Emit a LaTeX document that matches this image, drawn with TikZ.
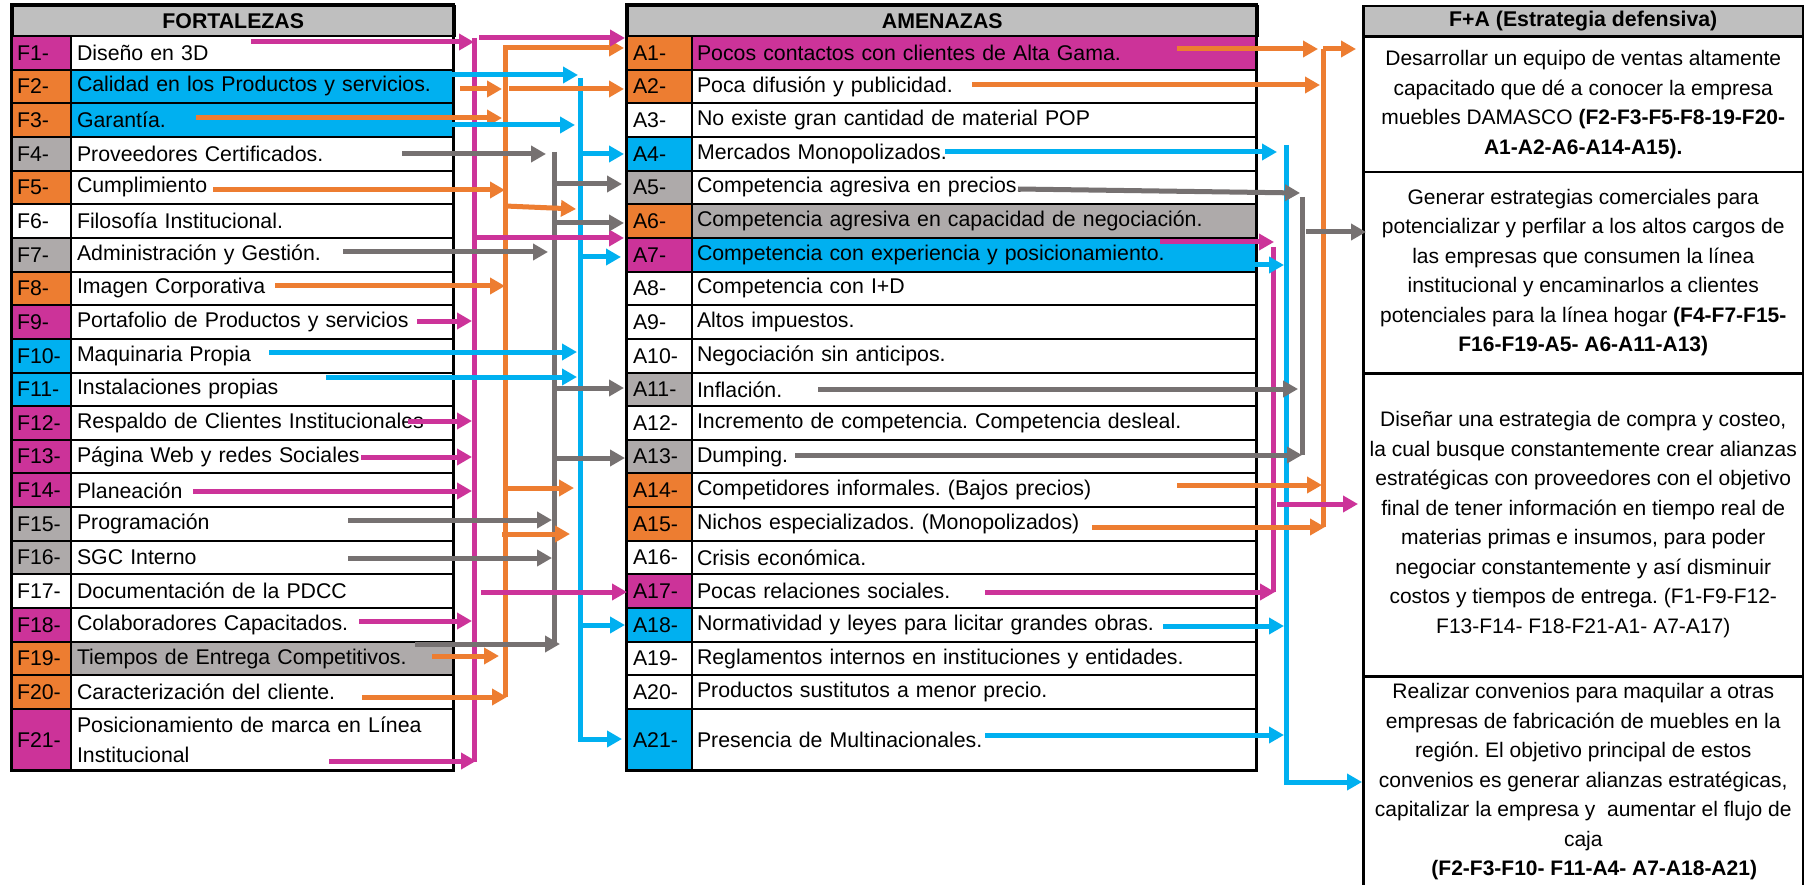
\documentclass[tikz,border=0pt]{standalone}
\usepackage{fontspec}
\setmainfont{Liberation Sans}
\frenchspacing
\usetikzlibrary{arrows.meta}
\definecolor{mag}{RGB}{204,51,153}
\definecolor{ora}{RGB}{237,125,49}
\definecolor{cya}{RGB}{0,176,240}
\definecolor{gry}{RGB}{118,113,113}
\definecolor{cellg}{RGB}{174,170,170}
\definecolor{headg}{RGB}{191,191,191}

\begin{document}
\begin{tikzpicture}[x=1pt, y=-1pt,
    every node/.style={font=\fontsize{21.3}{29.5}\selectfont, inner ysep=0pt},
    cell/.style={draw=black, line width=2pt, anchor=north west, minimum height=33.65pt, align=left},
    codeF/.style={cell, text width=49pt, inner xsep=5pt},
    textF/.style={cell, text width=371pt, inner xsep=6pt},
    codeA/.style={cell, text width=53pt, inner xsep=6pt},
    textA/.style={cell, text width=555pt, inner xsep=5pt},
    head/.style={draw=black, line width=2.5pt, fill=headg, anchor=north west,
      minimum height=30pt, font=\fontsize{21.3}{25}\selectfont\bfseries},
    strat/.style={draw=black, line width=2.5pt, anchor=north west, minimum width=440pt,
      align=center, font=\fontsize{21}{29.5}\selectfont},
    arr/.style={line width=5pt, -{Triangle[length=15pt,width=16pt]}},
    bus/.style={line width=5pt}]
  \useasboundingbox (0,0) rectangle (1804,885);
  \fill[white] (0,0) rectangle (1804,885);

  % FORTALEZAS
  \node[head, minimum width=442pt] (hF) at (11,5) {FORTALEZAS};
  \foreach \i/\cc/\tc/\txt in {1/mag/white/Diseño en 3D,
      2/ora/cya/Calidad en los Productos y servicios.,
      3/ora/cya/Garantía.,
      4/cellg/white/Proveedores Certificados.,
      5/ora/white/Cumplimiento,
      6/white/white/Filosofía Institucional.,
      7/cellg/white/Administración y Gestión.,
      8/ora/white/Imagen Corporativa,
      9/mag/white/Portafolio de Productos y servicios,
      10/cya/white/Maquinaria Propia,
      11/cya/white/Instalaciones propias,
      12/mag/white/Respaldo de Clientes Institucionales,
      13/mag/white/Página Web y redes Sociales,
      14/mag/white/Planeación,
      15/cellg/white/Programación,
      16/cellg/white/SGC Interno,
      17/white/white/Documentación de la PDCC,
      18/mag/white/Colaboradores Capacitados.,
      19/ora/cellg/Tiempos de Entrega Competitivos.,
      20/ora/white/Caracterización del cliente.}{
    \pgfmathsetmacro\yt{35+(\i-1)*33.65}
    \node[codeF, fill=\cc] (F\i) at (11,\yt) {F\i-};
    \node[textF, fill=\tc] (Ft\i) at (70,\yt) {\txt};
  }
  \node[codeF, fill=mag, minimum height=62pt] (F21) at (11,708) {F21-};
  \node[textF, fill=white, minimum height=62pt] (Ft21) at (70,708)
    {\makebox[371pt][s]{Posicionamiento de marca en Línea}\\Institucional};
  \draw[line width=3pt] (11,5) rectangle (453,770);

  % AMENAZAS
  \node[head, minimum width=630pt] (hA) at (626,5) {AMENAZAS};
  \foreach \i/\cc/\tc/\txt in {1/ora/mag/Pocos contactos con clientes de Alta Gama.,
      2/ora/white/Poca difusión y publicidad.,
      3/white/white/No existe gran cantidad de material POP,
      4/cya/white/Mercados Monopolizados.,
      5/cellg/white/Competencia agresiva en precios.,
      6/ora/cellg/Competencia agresiva en capacidad de negociación.,
      7/mag/cya/Competencia con experiencia y posicionamiento.,
      8/white/white/Competencia con I+D,
      9/white/white/Altos impuestos.,
      10/white/white/Negociación sin anticipos.,
      11/cellg/white/Inflación.,
      12/white/white/Incremento de competencia. Competencia desleal.,
      13/cellg/white/Dumping.,
      14/ora/white/Competidores informales. (Bajos precios),
      15/ora/white/Nichos especializados. (Monopolizados),
      16/white/white/Crisis económica.,
      17/mag/white/Pocas relaciones sociales.,
      18/cya/white/Normatividad y leyes para licitar grandes obras.,
      19/white/white/Reglamentos internos en instituciones y entidades.,
      20/white/white/Productos sustitutos a menor precio.}{
    \pgfmathsetmacro\yt{35+(\i-1)*33.65}
    \node[codeA, fill=\cc] (A\i) at (626,\yt) {A\i-};
    \node[textA, fill=\tc] (At\i) at (691,\yt) {\txt};
  }
  \node[codeA, fill=cya, minimum height=62pt] (A21) at (626,708) {A21-};
  \node[textA, fill=white, minimum height=62pt] (At21) at (691,708) {Presencia de Multinacionales.};
  \draw[line width=3pt] (626,5) rectangle (1256,770);

  % F+A
  \node[head, minimum width=440pt] (hS) at (1362,5) {F+A (Estrategia defensiva)};
  \node[strat, minimum height=135pt] (S1) at (1362,36)
    {Desarrollar un equipo de ventas altamente\\
     capacitado que dé a conocer la empresa\\
     muebles DAMASCO \textbf{(F2-F3-F5-F8-19-F20-}\\
     \textbf{A1-A2-A6-A14-A15).}};
  \node[strat, minimum height=201pt] (S2) at (1362,171)
    {Generar estrategias comerciales para\\
     potencializar y perfilar a los altos cargos de\\
     las empresas que consumen la línea\\
     institucional y encaminarlos a clientes\\
     potenciales para la línea hogar \textbf{(F4-F7-F15-}\\
     \textbf{F16-F19-A5- A6-A11-A13)}};
  \node[strat, minimum height=303pt] (S3) at (1362,372)
    {Diseñar una estrategia de compra y costeo,\\
     la cual busque constantemente crear alianzas\\
     estratégicas con proveedores con el objetivo\\
     final de tener información en tiempo real de\\
     materias primas e insumos, para poder\\
     negociar constantemente y así disminuir\\
     costos y tiempos de entrega. (F1-F9-F12-\\
     F13-F14- F18-F21-A1- A7-A17)};
  \node[strat, minimum height=211pt] (S4) at (1362,675)
    {Realizar convenios para maquilar a otras\\
     empresas de fabricación de muebles en la\\
     región. El objetivo principal de estos\\
     convenios es generar alianzas estratégicas,\\
     capitalizar la empresa y\ \ aumentar el flujo de\\
     caja\\
     \hspace*{22pt}\textbf{(F2-F3-F10- F11-A4- A7-A18-A21)}};

  % buses F -> A
  \coordinate (pkT) at (474,38);  \coordinate (pkB) at (474,762);
  \coordinate (orT) at (505,48);  \coordinate (orB) at (505,697);
  \coordinate (grT) at (554,152); \coordinate (grB) at (554,645);
  \coordinate (cyT) at (580,78);  \coordinate (cyB) at (580,739);
  \draw[bus, mag] (pkT) -- (pkB);
  \draw[arr, ora] (orB) -- (orT) -- (624,48);
  \draw[bus, gry] (grT) -- (grB);
  \draw[arr, cya] (cyT) -- (cyB) -- (622,739);

  % magenta
  \draw[arr, mag] (251,42) -- (474,42);
  \draw[arr, mag] (417,321) -- (472,321);
  \draw[arr, mag] (408,421) -- (472,421);
  \draw[arr, mag] (361,457) -- (472,457);
  \draw[arr, mag] (193,491) -- (472,491);
  \draw[arr, mag] (359,621) -- (472,621);
  \draw[arr, mag] (329,761) -- (476,761);
  \draw[arr, mag] (479,38) -- (625,38);
  \draw[arr, mag] (474,238) -- (624,238);
  \draw[arr, mag] (481,592) -- (627,592);
  % orange
  \draw[arr, ora] (460,89) -- (502,89);
  \draw[arr, ora] (509,89) -- (624,89);
  \draw[arr, ora] (196,118) -- (502,118);
  \draw[arr, ora] (213,190) -- (505,190);
  \draw[arr, ora] (275,286) -- (505,286);
  \draw[arr, ora] (432,656) -- (499,656);
  \draw[arr, ora] (362,697) -- (507,697);
  \draw[arr, ora] (505,206) -- (576,209);
  \draw[arr, ora] (505,488) -- (574,488);
  \draw[arr, ora] (502,534) -- (570,534);
  % gray
  \draw[arr, gry] (402,154) -- (546,154);
  \draw[arr, gry] (343,252) -- (548,252);
  \draw[arr, gry] (348,520) -- (552,520);
  \draw[arr, gry] (348,558) -- (552,558);
  \draw[arr, gry] (415,644) -- (560,644);
  \draw[arr, gry] (557,184) -- (622,184);
  \draw[arr, gry] (557,223) -- (624,223);
  \draw[arr, gry] (557,388) -- (624,388);
  \draw[arr, gry] (557,458) -- (625,458);
  % cyan
  \draw[arr, cya] (420,75) -- (578,75);
  \draw[arr, cya] (440,125) -- (575,125);
  \draw[arr, cya] (269,352) -- (577,352);
  \draw[arr, cya] (326,377) -- (577,377);
  \draw[arr, cya] (580,154) -- (624,154);
  \draw[arr, cya] (580,257) -- (621,257);
  \draw[arr, cya] (580,625) -- (625,625);

  % buses A -> F+A
  \coordinate (pkT2) at (1273,247); \coordinate (pkB2) at (1273,592);
  \coordinate (cyT2) at (1286,145); \coordinate (cyB2) at (1286,782);
  \coordinate (grT2) at (1302,197); \coordinate (grB2) at (1302,455);
  \coordinate (orT2) at (1323,49);  \coordinate (orB2) at (1323,527);
  \draw[bus, mag] (pkT2) -- (pkB2);
  \draw[arr, cya] (cyT2) -- (cyB2) -- (S4.west |- cyB2);
  \draw[bus, gry] (grT2) -- (grB2);
  \draw[bus, ora] (orT2) -- (orB2);

  \draw[arr, ora] (1177,49) -- (1318,49);
  \draw[arr, ora] (orT2) -- (1356,49);
  \draw[arr, ora] (972,85) -- (1320,85);
  \draw[arr, ora] (1177,485) -- (1322,485);
  \draw[arr, ora] (1092,527) -- (1325,527);

  \draw[arr, cya] (945,152) -- (1277,152);
  \draw[arr, cya] (1240,265) -- (1284,265);
  \draw[arr, cya] (1163,626) -- (1284,626);
  \draw[arr, cya] (985,735) -- (1284,735);

  \draw[arr, gry] (1018,189) -- (1300,193);
  \draw[arr, gry] (818,389) -- (1298,389);
  \draw[arr, gry] (795,455) -- (1302,455);
  \draw[arr, gry] (1306,232) -- (1366,232);

  \draw[arr, mag] (1160,242) -- (1274,242);
  \draw[arr, mag] (985,592) -- (1275,592);
  \draw[arr, mag] (1277,504) -- (1358,504);
\end{tikzpicture}
\end{document}
